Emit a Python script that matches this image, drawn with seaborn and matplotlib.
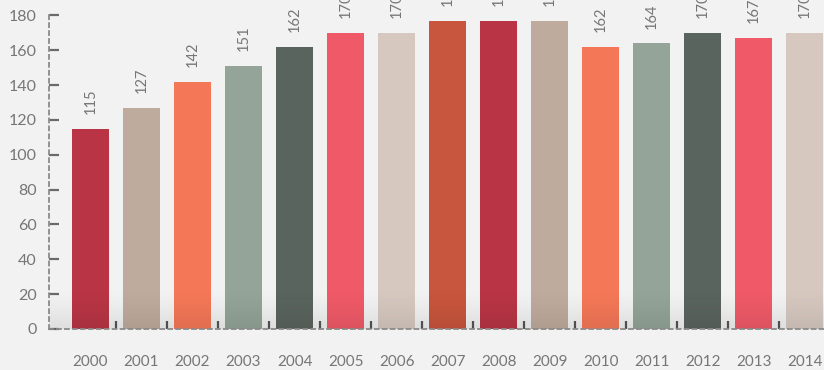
import numpy as np
import pandas as pd
import matplotlib
matplotlib.use("Agg")
import matplotlib.pyplot as plt
import seaborn as sns

# Annual values
years = ["2000", "2001", "2002", "2003", "2004", "2005", "2006", "2007",
         "2008", "2009", "2010", "2011", "2012", "2013", "2014"]
values = [115, 127, 142, 151, 162, 170, 170, 177, 177, 177, 162, 164, 170, 167, 170]

# Repeating colour cycle for the bars
cycle = ["#b93545", "#bfab9d", "#f47857", "#94a498", "#5a645e",
         "#f05a68", "#d6c8bf", "#c8553d"]
colors = [cycle[i % len(cycle)] for i in range(len(years))]

y_ticks = [0, 20, 40, 60, 80, 100, 120, 140, 160, 180]

bg = "#f2f2f2"
text_col = "#767676"

sns.set_theme(style="white")
plt.rcParams["font.family"] = ["Lato", "DejaVu Sans"]

fig = plt.figure(figsize=(8.24, 3.70), dpi=100, facecolor=bg)
ax = fig.add_axes([49 / 824, 41 / 370, 1 - 49 / 824, 329 / 370])
ax.set_facecolor(bg)

df = pd.DataFrame({"year": years, "value": values})
sns.barplot(data=df, x="year", y="value", hue="year", palette=colors,
            width=0.725, saturation=1, legend=False, ax=ax, zorder=2,
            linewidth=0, edgecolor="none")

ax.set_xlim(-0.814, 14.38)
ax.set_ylim(0, 188.8)

# Soft shading along the base of the bars
grad = np.zeros((64, 2, 4))
grad[..., 3] = np.linspace(0.0, 0.17, 64)[:, None] ** 1.4
ax.imshow(grad, extent=(-0.814, 14.38, 0, 24), origin="upper",
          aspect="auto", zorder=3, interpolation="bilinear")

# Value labels above each bar
for i, v in enumerate(values):
    ax.annotate(str(v), (i, v), xytext=(0, 10.5), textcoords="offset points",
                rotation=90, ha="center", va="bottom", fontsize=10.5,
                color=text_col, annotation_clip=False)

# Axes styling
for s in ["top", "right"]:
    ax.spines[s].set_visible(False)
for s in ["left", "bottom"]:
    ax.spines[s].set_linestyle((0, (2.2, 2.2)))
    ax.spines[s].set_color("#8a8a8a")
    ax.spines[s].set_linewidth(1.3)
    ax.spines[s].set_zorder(4)
ax.spines["left"].set_bounds(0, 182)

ax.set_yticks(y_ticks)
ax.set_yticklabels([str(t) for t in y_ticks])
ax.tick_params(axis="y", direction="in", length=7.5, width=1.6,
               color="#6a6a6a", labelsize=11.5, labelcolor=text_col, pad=9,
               left=True)

ax.set_xticks(range(len(years)))
ax.set_xticklabels(years)
ax.set_xticks([i + 0.5 for i in range(len(years) - 1)], minor=True)
ax.tick_params(axis="x", which="major", length=0, labelsize=11,
               labelcolor=text_col, pad=19)
ax.tick_params(axis="x", which="minor", direction="in", length=6,
               width=1.6, color="#555555", bottom=True)

ax.set_xlabel("")
ax.set_ylabel("")

fig.savefig("out.png", dpi=100, facecolor=bg)
